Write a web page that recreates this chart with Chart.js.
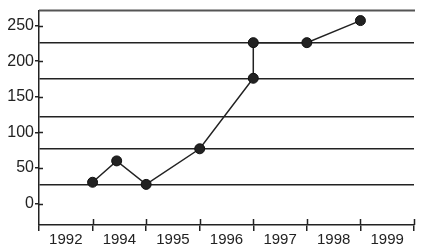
<!DOCTYPE html>
<html>
<head>
<meta charset="utf-8">
<script src="https://cdn.jsdelivr.net/npm/chart.js@4"></script>
<style>
  body { margin: 0; background: #fff; }
  canvas { display: block; }
</style>
</head>
<body>
<canvas id="chart" width="422" height="252"></canvas>
<script>
const yearLabels = ['1992', '1994', '1995', '1996', '1997', '1998', '1999'];
// position along the year axis (0 = left edge, 1 = first boundary, ...)
const pointPos = [1, 1.45, 2, 3, 4, 4, 5, 6];
const pointValues = [30, 60, 27, 77, 176, 226, 226, 257];
const valueTicks = [0, 50, 100, 150, 200, 250];
const gridValues = [27, 77, 122, 176, 226];

const ink = '#222';

// short tick marks on the inside of the axes + the top border
const innerTicks = {
    id: 'innerTicks',
    afterDraw(chart) {
        const { ctx, chartArea } = chart;
        const y = chart.scales.y;
        const xv = chart.scales.xv;
        ctx.save();
        ctx.strokeStyle = ink;
        ctx.lineWidth = 1.5;
        ctx.beginPath();
        valueTicks.forEach(v => {
            const py = Math.round(y.getPixelForValue(v)) + 0.5;
            ctx.moveTo(chartArea.left, py);
            ctx.lineTo(chartArea.left + 4, py);
        });
        for (let i = 1; i <= yearLabels.length; i++) {
            const px = Math.round(xv.getPixelForValue(i)) + 0.5;
            ctx.moveTo(px, chartArea.bottom);
            ctx.lineTo(px, chartArea.bottom - 6);
        }
        ctx.stroke();
        ctx.strokeStyle = '#555';
        ctx.lineWidth = 2;
        ctx.beginPath();
        ctx.moveTo(chartArea.left, chartArea.top);
        ctx.lineTo(chartArea.right + 1, chartArea.top);
        ctx.stroke();
        ctx.restore();
    }
};

new Chart(document.getElementById('chart'), {
    type: 'line',
    data: {
        labels: yearLabels,
        datasets: [{
            data: pointPos.map((p, i) => ({ x: p, y: pointValues[i] })),
            xAxisID: 'xv',
            borderColor: ink,
            borderWidth: 1.5,
            backgroundColor: ink,
            pointRadius: 5,
            pointBorderColor: '#111',
            pointBorderWidth: 1,
            tension: 0,
            clip: false
        }]
    },
    options: {
        responsive: false,
        animation: false,
        layout: { padding: { top: 9, right: 8, left: 0, bottom: 0 } },
        plugins: { legend: { display: false }, tooltip: { enabled: false } },
        scales: {
            xv: {
                type: 'linear',
                display: false,
                min: 0,
                max: yearLabels.length
            },
            x: {
                type: 'category',
                offset: true,
                border: { color: ink, width: 1.5 },
                grid: {
                    offset: true,
                    drawOnChartArea: false,
                    tickLength: 6,
                    tickColor: ink,
                    lineWidth: 1.5
                },
                ticks: {
                    color: ink,
                    font: { family: 'Liberation Sans, Arial, sans-serif', size: 15 },
                    padding: 0,
                    maxRotation: 0,
                    autoSkip: false
                },
                afterFit(scale) { scale.height = 27; }
            },
            y: {
                type: 'linear',
                min: -30,
                max: 271,
                afterBuildTicks(scale) {
                    scale.ticks = [...valueTicks, ...gridValues]
                        .sort((a, b) => a - b)
                        .map(v => ({ value: v }));
                },
                border: { color: ink, width: 1.5 },
                grid: {
                    color: c => gridValues.includes(c.tick.value) ? ink : 'rgba(0,0,0,0)',
                    tickColor: c => valueTicks.includes(c.tick.value) ? ink : 'rgba(0,0,0,0)',
                    lineWidth: 1.5,
                    tickLength: 4
                },
                ticks: {
                    color: ink,
                    autoSkip: false,
                    padding: 1,
                    font: { family: 'Liberation Sans, Arial, sans-serif', size: 16 },
                    callback: v => valueTicks.includes(v) ? String(v) : ''
                },
                afterFit(scale) { scale.width = 39; }
            }
        }
    },
    plugins: [innerTicks]
});
</script>
</body>
</html>
